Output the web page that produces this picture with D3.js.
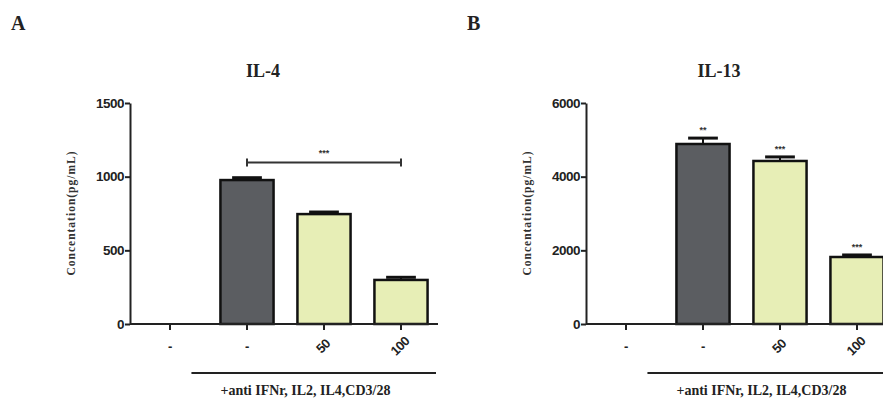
<!DOCTYPE html>
<html>
<head>
<meta charset="utf-8">
<script src="https://cdn.jsdelivr.net/npm/d3@7"></script>
<style>
  body { margin: 0; background: #fff; }
  svg { display: block; }
</style>
</head>
<body>
<svg id="chart" width="883" height="403"></svg>
<script>
const groupLabels = ["-", "-", "50", "100"];
const il4Values = [0, 977, 746, 299];
const il4Errors = [0, 16, 14, 18];
const il13Values = [0, 4887, 4426, 1819];
const il13Errors = [0, 160, 110, 55];
const il4Ticks = [0, 500, 1000, 1500];
const il13Ticks = [0, 2000, 4000, 6000];
const il13Stars = ["", "**", "***", "***"];
const barFills = ["#ffffff", "#5b5d61", "#e7eeb6", "#e7eeb6"];

const svg = d3.select("#chart");

function drawPanel(opts) {
  const { left, letter, title, values, errors, ticks, yMax } = opts;
  const g = svg.append("g");

  const x = d3.scaleBand()
    .domain(d3.range(groupLabels.length))
    .range([left + 1.5, left + 309.5])
    .paddingInner(0.31)
    .paddingOuter(0.155);
  const y = d3.scaleLinear().domain([0, yMax]).range([324, 103]);

  g.append("text")
    .attr("x", left - 119)
    .attr("y", 30)
    .attr("font-family", "Liberation Serif")
    .attr("font-weight", "bold")
    .attr("font-size", 20)
    .attr("fill", "#222")
    .text(letter);

  g.append("text")
    .attr("x", left + 133)
    .attr("y", 77)
    .attr("text-anchor", "middle")
    .attr("font-family", "Liberation Serif")
    .attr("font-weight", "bold")
    .attr("font-size", 18)
    .attr("fill", "#222")
    .text(title);

  g.append("text")
    .attr("transform", `translate(${left - 55},213) rotate(-90)`)
    .attr("text-anchor", "middle")
    .attr("font-family", "Liberation Serif")
    .attr("font-weight", "bold")
    .attr("font-size", 11.5)
    .attr("letter-spacing", 1)
    .attr("fill", "#333")
    .text("Concentation(pg/mL)");

  // bars
  const bars = g.selectAll(".bar").data(values.map((v, i) => ({ v, i })).filter(d => d.v > 0));
  bars.enter().append("rect")
    .attr("x", d => x(d.i))
    .attr("y", d => y(d.v))
    .attr("width", x.bandwidth())
    .attr("height", d => y(0) - y(d.v))
    .attr("fill", d => barFills[d.i])
    .attr("stroke", "#111")
    .attr("stroke-width", 2.5);

  // error bars
  const err = values.map((v, i) => ({ v, e: errors[i], i })).filter(d => d.v > 0);
  g.selectAll(".errline").data(err).enter().append("line")
    .attr("x1", d => x(d.i) + x.bandwidth() / 2)
    .attr("x2", d => x(d.i) + x.bandwidth() / 2)
    .attr("y1", d => y(d.v))
    .attr("y2", d => y(d.v + d.e))
    .attr("stroke", "#111")
    .attr("stroke-width", 2);
  g.selectAll(".errcap").data(err).enter().append("line")
    .attr("x1", d => x(d.i) + x.bandwidth() * 0.22)
    .attr("x2", d => x(d.i) + x.bandwidth() * 0.78)
    .attr("y1", d => y(d.v + d.e))
    .attr("y2", d => y(d.v + d.e))
    .attr("stroke", "#111")
    .attr("stroke-width", 3);

  // y axis
  const yAxis = g.append("g")
    .attr("transform", `translate(${left},0)`)
    .call(d3.axisLeft(y).tickValues(ticks).tickFormat(d3.format("d")).tickSize(5).tickSizeOuter(0));
  yAxis.select(".domain").attr("stroke", "#222").attr("stroke-width", 2);
  yAxis.selectAll(".tick line").attr("stroke", "#222").attr("stroke-width", 2);
  yAxis.selectAll(".tick text")
    .attr("font-family", "Liberation Sans")
    .attr("font-weight", "bold")
    .attr("font-size", 13.5)
    .attr("letter-spacing", -0.5)
    .attr("fill", "#222")
    .attr("x", -6);

  // x axis
  const xAxis = g.append("g")
    .attr("transform", "translate(0,324)")
    .call(d3.axisBottom(x).tickFormat(i => groupLabels[i]).tickSize(6).tickSizeOuter(0));
  xAxis.select(".domain")
    .attr("d", `M${left},0H${left + 308}`)
    .attr("stroke", "#222").attr("stroke-width", 2);
  xAxis.selectAll(".tick line").attr("stroke", "#222").attr("stroke-width", 2);
  xAxis.selectAll(".tick text")
    .attr("font-family", "Liberation Sans")
    .attr("font-weight", "bold")
    .attr("font-size", 13)
    .attr("letter-spacing", -0.5)
    .attr("fill", "#222")
    .attr("text-anchor", "middle")
    .attr("y", 0)
    .attr("dy", "0.35em")
    .attr("transform", i => groupLabels[i] === "-" ? "translate(0,22)" : "translate(-1,22) rotate(-45)");

  // treatment bracket line and caption
  g.append("line")
    .attr("x1", x(1) - 29)
    .attr("x2", left + 306)
    .attr("y1", 373)
    .attr("y2", 373)
    .attr("stroke", "#222")
    .attr("stroke-width", 2);
  g.append("text")
    .attr("x", x(2) + 8)
    .attr("y", 395)
    .attr("text-anchor", "middle")
    .attr("font-family", "Liberation Serif")
    .attr("font-weight", "bold")
    .attr("font-size", 14)
    .attr("fill", "#222")
    .text("+anti IFNr, IL2, IL4,CD3/28");

  return { g, x, y };
}

const panelA = drawPanel({ left: 130, letter: "A", title: "IL-4", values: il4Values, errors: il4Errors, ticks: il4Ticks, yMax: 1500 });
const panelB = drawPanel({ left: 586, letter: "B", title: "IL-13", values: il13Values, errors: il13Errors, ticks: il13Ticks, yMax: 6000 });

// significance bracket in panel A
{
  const { g, x, y } = panelA;
  const cx1 = x(1) + x.bandwidth() / 2;
  const cx3 = x(3) + x.bandwidth() / 2;
  const by = y(1097);
  g.append("path")
    .attr("d", `M${cx1},${by - 4}V${by + 4}M${cx1},${by}H${cx3}M${cx3},${by - 4}V${by + 4}`)
    .attr("fill", "none")
    .attr("stroke", "#333")
    .attr("stroke-width", 2);
  g.append("text")
    .attr("x", (cx1 + cx3) / 2)
    .attr("y", by - 6)
    .attr("text-anchor", "middle")
    .attr("font-family", "Liberation Sans")
    .attr("font-weight", "bold")
    .attr("font-size", 9)
    .attr("fill", "#333")
    .text("***");
}

// stars above panel B bars
{
  const { g, x, y } = panelB;
  g.selectAll(".star").data(il13Stars.map((s, i) => ({ s, i })).filter(d => d.s)).enter()
    .append("text")
    .attr("x", d => x(d.i) + x.bandwidth() / 2)
    .attr("y", d => y(il13Values[d.i] + il13Errors[d.i]) - 5)
    .attr("text-anchor", "middle")
    .attr("font-family", "Liberation Sans")
    .attr("font-weight", "bold")
    .attr("font-size", 9)
    .attr("fill", "#333")
    .text(d => d.s);
}
</script>
</body>
</html>
